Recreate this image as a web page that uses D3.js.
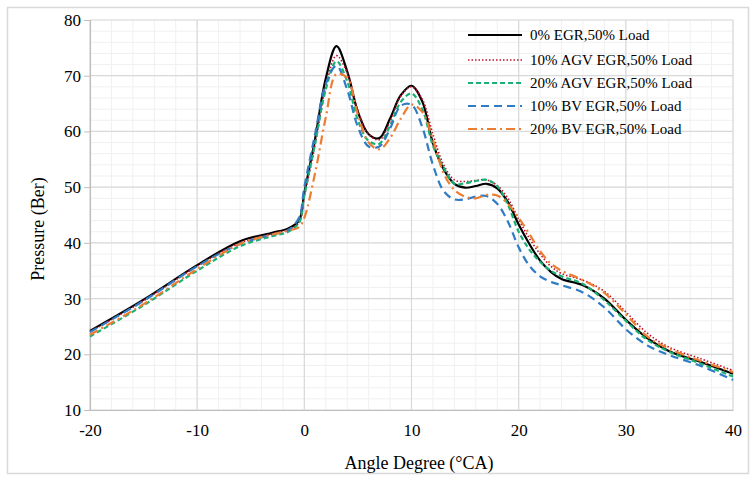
<!DOCTYPE html>
<html>
<head>
<meta charset="utf-8">
<script src="https://cdn.jsdelivr.net/npm/d3@7"></script>
<style>
  html, body { margin: 0; padding: 0; background: #fff; }
  svg { display: block; }
  text { font-family: "Liberation Serif", "Times New Roman", serif; fill: #000; }
</style>
</head>
<body>
<svg id="chart" width="756" height="481"></svg>
<script>
const angles = [-20,-15,-10,-6,-3,-1.5,-0.5,0,1,2,3,4,5,6,7,8,9,10,11,12,13,14,15,16,17,18,19,20,21,22,23,24,26,28,30,32,34,37,40];

const egr0 = [24.2,29.8,36.0,40.3,41.8,42.6,44.0,49.0,58.6,69.5,75.3,70.8,63.5,59.5,58.8,62.3,66.5,68.2,65.4,57.9,53.2,50.6,49.9,50.2,50.6,49.8,47.3,43.3,39.8,36.8,34.8,33.5,32.4,30.0,26.2,22.9,20.6,18.6,16.5];
const agv10 = [24.0,29.6,35.8,40.0,41.6,42.4,43.6,48.3,57.5,68.0,73.6,70.5,63.8,59.5,58.5,61.8,66.3,68.0,65.8,59.5,54.0,51.3,51.0,51.2,51.3,50.3,48.0,44.2,40.8,38.0,35.8,34.5,33.3,31.3,27.6,23.8,21.3,19.2,17.1];
const agv20 = [23.2,28.8,35.0,39.4,41.2,42.0,43.6,48.5,57.8,67.5,72.6,69.0,62.0,58.3,57.8,61.0,65.3,66.8,64.0,57.5,53.5,50.6,50.7,51.1,51.3,50.2,46.8,42.0,38.8,36.6,35.0,34.0,32.6,29.7,26.0,22.6,20.5,18.3,16.0];
const bv10 = [24.0,29.6,35.8,39.8,41.5,42.3,44.5,50.0,59.5,68.5,71.8,67.5,60.8,57.3,57.3,60.5,64.6,64.8,60.8,54.0,49.3,47.8,47.8,48.3,48.4,47.0,43.8,39.2,35.9,34.0,33.0,32.4,31.1,28.4,24.5,21.6,19.9,17.9,15.4];
const bv20 = [23.5,29.0,35.3,39.8,41.5,42.2,42.8,44.5,52.5,62.5,70.3,69.6,63.0,58.0,56.8,58.8,62.3,64.8,63.5,58.5,52.5,49.5,48.3,48.0,48.6,48.5,47.0,44.5,41.6,38.5,36.3,35.0,33.3,31.0,27.2,23.2,21.0,18.8,16.8];

const seriesNames = ["0% EGR,50% Load","10% AGV EGR,50% Load","20% AGV EGR,50% Load","10% BV EGR,50% Load","20% BV EGR,50% Load"];
const seriesValues = [egr0, agv10, agv20, bv10, bv20];

const xTicks = [-20,-10,0,10,20,30,40];
const yTicks = [10,20,30,40,50,60,70,80];
const xTitle = "Angle Degree (°CA)";
const yTitle = "Pressure (Ber)";

const styles = [
  {color: "#000000", width: 2.2, dash: null},
  {color: "#c0102a", width: 1.6, dash: "1.5,2"},
  {color: "#1aaf74", width: 2.2, dash: "5,3"},
  {color: "#2f7bc4", width: 2.2, dash: "8,5"},
  {color: "#ed7d31", width: 2.2, dash: "9,4,2,4"}
];

const svg = d3.select("#chart");
const M = {left: 90, right: 733, top: 20, bottom: 410};

// outer frame
svg.append("rect").attr("x", 7.5).attr("y", 7.5).attr("width", 741).attr("height", 466)
  .attr("fill", "none").attr("stroke", "#d9d9d9").attr("stroke-width", 1.5);

const x = d3.scaleLinear().domain([-20, 40]).range([M.left, M.right]);
const y = d3.scaleLinear().domain([10, 80]).range([M.bottom, M.top]);

// minor grid
const g = svg.append("g");
g.selectAll(".mx").data(d3.range(-20, 40.01, 2)).join("line")
  .attr("x1", d => x(d)).attr("x2", d => x(d)).attr("y1", M.top).attr("y2", M.bottom)
  .attr("stroke", "#f0f0f0").attr("stroke-width", 1);
g.selectAll(".my").data(d3.range(10, 80.01, 2)).join("line")
  .attr("y1", d => y(d)).attr("y2", d => y(d)).attr("x1", M.left).attr("x2", M.right)
  .attr("stroke", "#f0f0f0").attr("stroke-width", 1);
// major grid
g.selectAll(".Mx").data(xTicks).join("line")
  .attr("x1", d => x(d)).attr("x2", d => x(d)).attr("y1", M.top).attr("y2", M.bottom)
  .attr("stroke", "#d9d9d9").attr("stroke-width", 1.2);
g.selectAll(".My").data(yTicks).join("line")
  .attr("y1", d => y(d)).attr("y2", d => y(d)).attr("x1", M.left).attr("x2", M.right)
  .attr("stroke", "#d9d9d9").attr("stroke-width", 1.2);

// axes
const xAxis = svg.append("g").attr("transform", `translate(0,${M.bottom})`)
  .call(d3.axisBottom(x).tickValues(xTicks).tickSize(0).tickPadding(14).tickFormat(d => String(d)));
const yAxis = svg.append("g").attr("transform", `translate(${M.left},0)`)
  .call(d3.axisLeft(y).tickValues(yTicks).tickSize(6).tickPadding(3).tickFormat(d => String(d)));
[xAxis, yAxis].forEach(a => {
  a.select(".domain").attr("stroke", "#bfbfbf").attr("stroke-width", 1.2);
  a.selectAll(".tick line").attr("stroke", "#bfbfbf");
  a.selectAll("text").style("font-family", "'Liberation Serif', serif").style("font-size", "17px").attr("fill", "#000");
});

// titles
svg.append("text").attr("x", 419).attr("y", 469).attr("text-anchor", "middle")
  .style("font-size", "18px").text(xTitle);
svg.append("text").attr("transform", "translate(44,229) rotate(-90)").attr("text-anchor", "middle")
  .style("font-size", "18px").text(yTitle);

// lines
const line = d3.line().x((d, i) => x(angles[i])).y(d => y(d)).curve(d3.curveCatmullRom.alpha(0.5));
const order = [0, 1, 2, 3, 4];
svg.append("g").selectAll("path").data(order).join("path")
  .attr("d", i => line(seriesValues[i]))
  .attr("fill", "none")
  .attr("stroke", i => styles[i].color)
  .attr("stroke-width", i => styles[i].width)
  .attr("stroke-dasharray", i => styles[i].dash)
  .attr("stroke-linejoin", "round");

// legend
const legY = [35, 60, 83, 106, 129];
const leg = svg.append("g");
seriesNames.forEach((name, i) => {
  leg.append("line").attr("x1", 468).attr("x2", 522).attr("y1", legY[i]).attr("y2", legY[i])
    .attr("stroke", styles[i].color).attr("stroke-width", styles[i].width)
    .attr("stroke-dasharray", styles[i].dash);
  leg.append("text").attr("x", 530).attr("y", legY[i]).attr("dy", "0.35em")
    .style("font-size", "15px").text(name);
});
</script>
</body>
</html>
